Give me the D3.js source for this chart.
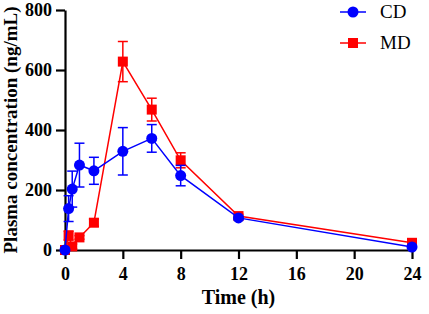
<!DOCTYPE html>
<html>
<head>
<meta charset="utf-8">
<script src="https://cdn.jsdelivr.net/npm/d3@7"></script>
<style>
  body { margin: 0; background: #fff; }
  text { font-family: "Liberation Serif", "Times New Roman", serif; }
</style>
</head>
<body>
<div id="chart"></div>
<script>
// time points (h)
let times = [0, 0.25, 0.5, 1, 2, 4, 6, 8, 12, 24];
// CD series mean / sd
let cdMean = [0, 138, 203, 283, 264, 329, 372, 248, 107, 10];
let cdSd = [0, 43, 60, 73, 45, 79, 46, 34, 6, 3];
// MD series mean / sd
let mdMean = [0, 48, 12, 42, 91, 628, 468, 299, 113, 24];
let mdSd = [0, 15, 8, 6, 12, 67, 38, 25, 6, 4];

let xTicks = [0, 4, 8, 12, 16, 20, 24];
let yTicks = [0, 200, 400, 600, 800];

let width = 429, height = 314;
let margin = {top: 10, right: 17, bottom: 64, left: 65};

let svg = d3.select("#chart").append("svg")
    .attr("width", width)
    .attr("height", height);

let x = d3.scaleLinear().domain([0, 24]).range([margin.left, width - margin.right]);
let y = d3.scaleLinear().domain([0, 800]).range([height - margin.bottom, margin.top]);

// axes
let xAxis = svg.append("g")
    .attr("transform", "translate(0," + y(0) + ")")
    .call(d3.axisBottom(x).tickValues(xTicks).tickSize(9).tickPadding(8).tickSizeOuter(0));
let yAxis = svg.append("g")
    .attr("transform", "translate(" + x(0) + ",0)")
    .call(d3.axisLeft(y).tickValues(yTicks).tickSize(9).tickPadding(4).tickSizeOuter(0));

[xAxis, yAxis].forEach(function (a) {
    a.attr("font-family", null);
    a.select(".domain").attr("stroke", "#000").attr("stroke-width", 2.2);
    a.selectAll(".tick line").attr("stroke", "#000").attr("stroke-width", 2.2);
    a.selectAll(".tick text")
        .attr("fill", "#000")
        .style("font-family", "'Liberation Serif', serif")
        .style("font-weight", "bold")
        .style("font-size", "18px");
});

// axis labels
svg.append("text")
    .attr("x", (x(0) + x(24)) / 2)
    .attr("y", 304)
    .attr("text-anchor", "middle")
    .style("font-weight", "bold")
    .style("font-size", "20px")
    .text("Time (h)");

svg.append("text")
    .attr("transform", "translate(17," + ((y(0) + y(800)) / 2) + ") rotate(-90)")
    .attr("text-anchor", "middle")
    .style("font-weight", "bold")
    .style("font-size", "19px")
    .text("Plasma concentration (ng/mL)");

let series = [
    {name: "MD", mean: mdMean, sd: mdSd, color: "#ff0000", shape: "square"},
    {name: "CD", mean: cdMean, sd: cdSd, color: "#0000ff", shape: "circle"}
];

let line = d3.line()
    .x(function (d) { return x(d.t); })
    .y(function (d) { return y(d.v); });

series.forEach(function (s) {
    let pts = times.map(function (t, i) { return {t: t, v: s.mean[i], sd: s.sd[i]}; });
    let g = svg.append("g");

    // error bars
    let eb = g.selectAll(".eb").data(pts.filter(function (d) { return d.sd > 0; }))
        .enter().append("g").attr("stroke", s.color).attr("stroke-width", 1.5);
    eb.append("line")
        .attr("x1", function (d) { return x(d.t); })
        .attr("x2", function (d) { return x(d.t); })
        .attr("y1", function (d) { return y(d.v - d.sd); })
        .attr("y2", function (d) { return y(d.v + d.sd); });
    [-1, 1].forEach(function (k) {
        eb.append("line")
            .attr("x1", function (d) { return x(d.t) - 5; })
            .attr("x2", function (d) { return x(d.t) + 5; })
            .attr("y1", function (d) { return y(d.v + k * d.sd); })
            .attr("y2", function (d) { return y(d.v + k * d.sd); });
    });

    g.append("path")
        .datum(pts)
        .attr("fill", "none")
        .attr("stroke", s.color)
        .attr("stroke-width", 1.5)
        .attr("d", line);

    if (s.shape === "circle") {
        g.selectAll(".pt").data(pts).enter().append("circle")
            .attr("cx", function (d) { return x(d.t); })
            .attr("cy", function (d) { return y(d.v); })
            .attr("r", 5.5)
            .attr("fill", s.color);
    } else {
        g.selectAll(".pt").data(pts).enter().append("rect")
            .attr("x", function (d) { return x(d.t) - 5; })
            .attr("y", function (d) { return y(d.v) - 5; })
            .attr("width", 10)
            .attr("height", 10)
            .attr("fill", s.color);
    }
});

// legend
let legend = [
    {name: "CD", color: "#0000ff", shape: "circle", y: 12},
    {name: "MD", color: "#ff0000", shape: "square", y: 43}
];
legend.forEach(function (l) {
    svg.append("line")
        .attr("x1", 340).attr("x2", 366)
        .attr("y1", l.y).attr("y2", l.y)
        .attr("stroke", l.color).attr("stroke-width", 1.5);
    if (l.shape === "circle") {
        svg.append("circle").attr("cx", 353).attr("cy", l.y).attr("r", 5.5).attr("fill", l.color);
    } else {
        svg.append("rect").attr("x", 348).attr("y", l.y - 5).attr("width", 10).attr("height", 10).attr("fill", l.color);
    }
    svg.append("text")
        .attr("x", 380)
        .attr("y", l.y + 6)
        .style("font-size", "19px")
        .text(l.name);
});
</script>
</body>
</html>
